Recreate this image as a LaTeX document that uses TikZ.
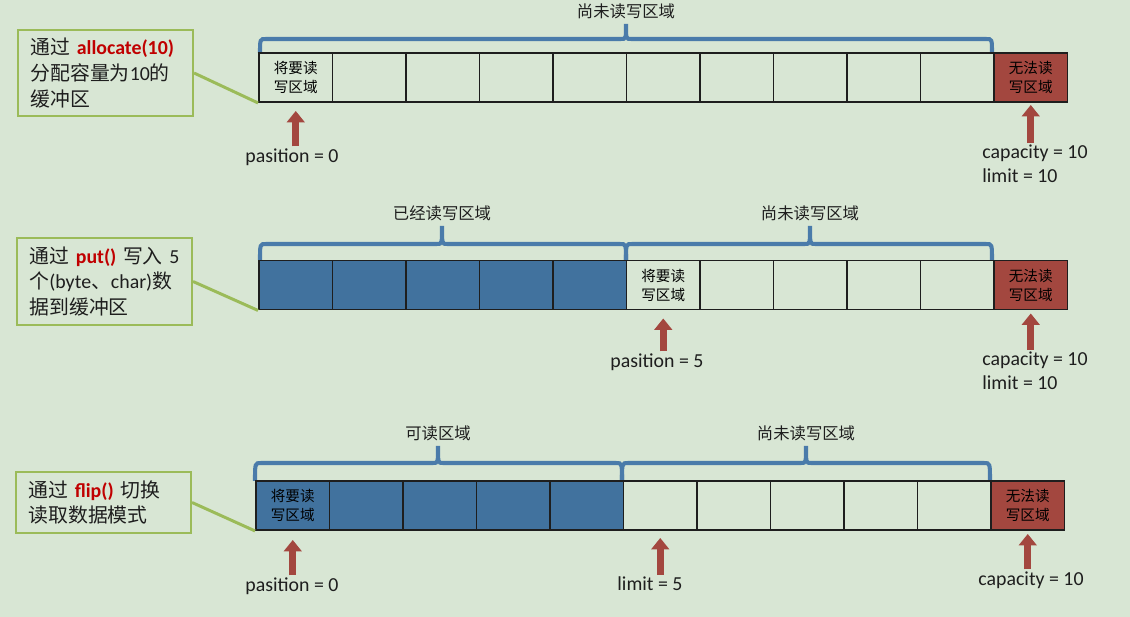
\documentclass[tikz,border=0pt]{standalone}
\usepackage{fontspec}
\setmainfont{Carlito}
\newfontfamily\cjk{Noto Sans CJK SC}
\usetikzlibrary{arrows.meta,positioning,calc}
\definecolor{paper}{HTML}{D8E6D4}
\definecolor{ink}{HTML}{1E1E1E}
\definecolor{steel}{HTML}{41729E}
\definecolor{brick}{HTML}{A3473F}
\definecolor{leaf}{HTML}{9BBB59}
\definecolor{codered}{HTML}{C00000}
\definecolor{curl}{HTML}{4A7BAA}
\newcommand\zh[1]{{\cjk#1}}

\begin{document}
\begin{tikzpicture}[x=0.02cm,y=-0.02cm,
  cell/.style={draw=ink,line width=1.1pt,minimum width=1.47cm,minimum height=0.98cm,
    inner sep=0pt,align=center,text=black,font=\cjk\fontsize{8.3}{10.8}\selectfont},
  used/.style={cell,fill=steel},
  wall/.style={cell,fill=brick},
  note/.style={draw=leaf,line width=1.2pt,text width=3cm,inner xsep=0.25cm,inner ysep=0pt,
    align=left,text=ink,font=\fontsize{11.3}{14.7}\selectfont},
  lnk/.style={draw=leaf,line width=1.7pt},
  arr/.style={draw=brick,line width=3.8pt,-{Triangle[width=10pt,length=6.5pt]}},
  val/.style={text=ink,inner sep=1pt,align=left,font=\fontsize{11.3}{13.6}\selectfont},
  curlybr/.style={draw=curl,line width=2.3pt},
  zone/.style={text=ink,inner sep=0pt,font=\cjk\fontsize{9.3}{11}\selectfont}]

\fill[paper] (0,0) rectangle (1130,617);

% braces over the buffer
\foreach \xa/\xm/\xb/\yb/\yh/\yt/\txt [count=\k] in {260/626/992/53/39/24/尚未读写区域,
  260/442/626/260/244/226/已经读写区域, 626/810/992/260/244/226/尚未读写区域,
  255/438/622/481/463/446/可读区域, 622/806/990/481/463/446/尚未读写区域} {
  \draw[curlybr] (\xa,\yb) .. controls (\xa,\yh) .. ({\xa+6},\yh) -- ({\xm-5},\yh)
    .. controls (\xm,\yh) .. (\xm,\yt) .. controls (\xm,\yh) .. ({\xm+5},\yh)
    -- ({\xb-6},\yh) .. controls (\xb,\yh) .. (\xb,\yb);
  \node[zone] (zone\k) at (\xm,{\yt-13}) {\txt};
}

% allocate
\foreach \i in {1,...,9}
  \node[cell] (a\i) at ({259+73.5*(\i+0.5)},77.5) {};
\node[cell] (a0) at (295.75,77.5) {将要读\\写区域};
\node[wall] (a10) at (1030.75,77.5) {无法读\\写区域};

% put
\foreach \i in {0,...,4}
  \node[used] (b\i) at ({259+73.5*(\i+0.5)},285) {};
\foreach \i in {6,...,9}
  \node[cell] (b\i) at ({259+73.5*(\i+0.5)},285) {};
\node[cell] (b5) at (663.25,285) {将要读\\写区域};
\node[wall] (b10) at (1030.75,285) {无法读\\写区域};

% flip
\foreach \i in {1,...,4}
  \node[used] (c\i) at ({256+73.5*(\i+0.5)},505.5) {};
\foreach \i in {5,...,9}
  \node[cell] (c\i) at ({256+73.5*(\i+0.5)},505.5) {};
\node[used] (c0) at (292.75,505.5) {将要读\\写区域};
\node[wall] (c10) at (1027.75,505.5) {无法读\\写区域};

% pointers
\node[val] (p1) at (292,157) {pasition = 0};
\node[val] (k1) at (1035,164) {capacity = 10\\limit = 10};
\draw[arr,shorten >=0.16cm] (a0.south |- p1.north) -- (a0.south);
\draw[arr,shorten >=0.04cm] (a10.south |- k1.north) -- (a10.south);

\node[val] (p2) at (657,362) {pasition = 5};
\node[val] (k2) at (1035,371) {capacity = 10\\limit = 10};
\draw[arr,shorten >=0.16cm] (b5.south |- p2.north) -- (b5.south);
\draw[arr,shorten >=0.06cm] (b10.south |- k2.north) -- (b10.south);

\node[val] (p3) at (292,586) {pasition = 0};
\node[val] (m3) at (650,584) {limit = 5};
\node[val] (k3) at (1031,580) {capacity = 10};
\draw[arr,shorten >=0.18cm] (c0.south |- p3.north) -- (c0.south);
\draw[arr,shorten >=0.14cm] (c5.south |- m3.north) -- (c5.south);
\draw[arr,shorten >=0.06cm] (c10.south |- k3.north) -- (c10.south);

% notes
\node[note,minimum height=1.72cm] (n1) at (105.5,73)
  {\zh{通过} \textbf{\color{codered}allocate(10)}\\\zh{分配容量为}10\zh{的}\\\zh{缓冲区}};
\node[note,minimum height=1.74cm] (n2) at (104.5,281.5)
  {\zh{通过} \textbf{\color{codered}put()} \zh{写入} 5\\\zh{个}(byte\zh{、}char)\zh{数}\\\zh{据到缓冲区}};
\node[note,minimum height=1.22cm] (n3) at (103.5,502.5)
  {\zh{通过} \textbf{\color{codered}flip()} \zh{切换}\\\zh{读取数据模式}};
\draw[lnk] (n1.east) -- (a0.south west);
\draw[lnk] (n2.east) -- (b0.south west);
\draw[lnk] (n3.east) -- (c0.south west);
\end{tikzpicture}
\end{document}
